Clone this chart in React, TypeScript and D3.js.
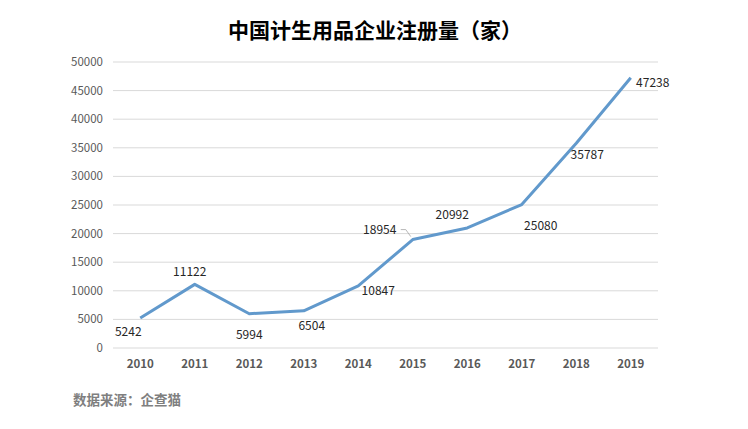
import { useEffect, useRef } from 'react'
import * as d3 from 'd3'

const years = ['2010', '2011', '2012', '2013', '2014', '2015', '2016', '2017', '2018', '2019']
const counts = [5242, 11122, 5994, 6504, 10847, 18954, 20992, 25080, 35787, 47238]
const yTicks = [0, 5000, 10000, 15000, 20000, 25000, 30000, 35000, 40000, 45000, 50000]

// label offsets from each point (layout only)
const labelOffset: [number, number][] = [
	[-12, 14], [-5, -13], [0, 21], [8, 15], [20, 5], [-33, -10], [-15, -13], [19, 21], [11, 12], [22, 5]
]

const W = 748
const H = 429
const font = '"Noto Sans CJK SC", "Noto Sans", sans-serif'

export default function App() {
	const ref = useRef<SVGSVGElement>(null)

	useEffect(() => {
		const svg = d3.select(ref.current)
		svg.selectAll('*').remove()

		const marginLeft = 113
		const marginRight = 90
		const top = 62
		const bottom = 348

		const x = d3.scaleBand().domain(years).range([marginLeft, W - marginRight])
		const y = d3.scaleLinear().domain([0, 50000]).range([bottom, top])
		const cx = (d: string) => (x(d) || 0) + x.bandwidth() / 2

		svg.append('text')
			.attr('x', W / 2 + 1)
			.attr('y', 38)
			.attr('text-anchor', 'middle')
			.attr('font-family', font)
			.attr('font-size', '21px')
			.attr('font-weight', 'bold')
			.attr('fill', '#000')
			.text('中国计生用品企业注册量（家）')

		// grid
		svg.append('g').selectAll('line').data(yTicks).join('line')
			.attr('x1', marginLeft)
			.attr('x2', W - marginRight)
			.attr('y1', d => y(d))
			.attr('y2', d => y(d))
			.attr('stroke', '#d9d9d9')
			.attr('stroke-width', 1)

		svg.append('g').selectAll('text').data(yTicks).join('text')
			.attr('x', 103)
			.attr('y', d => y(d))
			.attr('dy', '0.35em')
			.attr('text-anchor', 'end')
			.attr('font-family', font)
			.attr('font-size', '11.5px')
			.attr('fill', '#595959')
			.text(d => d)

		svg.append('g').selectAll('text').data(years).join('text')
			.attr('x', d => cx(d))
			.attr('y', 368)
			.attr('text-anchor', 'middle')
			.attr('font-family', font)
			.attr('font-size', '11.5px')
			.attr('font-weight', 'bold')
			.attr('fill', '#595959')
			.text(d => d)

		const line = d3.line<number>()
			.x((d, i) => cx(years[i]))
			.y(d => y(d))

		svg.append('path')
			.datum(counts)
			.attr('d', line)
			.attr('fill', 'none')
			.attr('stroke', '#6199cc')
			.attr('stroke-width', 3)
			.attr('stroke-linejoin', 'round')

		// leader line for 2015
		const i15 = years.indexOf('2015')
		const px = cx(years[i15])
		const py = y(counts[i15])
		svg.append('path')
			.attr('d', `M${px + labelOffset[i15][0] + 21},${py + labelOffset[i15][1]}h5L${px - 2},${py - 3}`)
			.attr('fill', 'none')
			.attr('stroke', '#a6a6a6')
			.attr('stroke-width', 0.8)

		svg.append('g').selectAll('text').data(counts).join('text')
			.attr('x', (d, i) => cx(years[i]) + labelOffset[i][0])
			.attr('y', (d, i) => y(d) + labelOffset[i][1])
			.attr('dy', '0.35em')
			.attr('text-anchor', 'middle')
			.attr('font-family', font)
			.attr('font-size', '12px')
			.attr('fill', '#262626')
			.text(d => d)

		svg.append('text')
			.attr('x', 73)
			.attr('y', 405)
			.attr('font-family', font)
			.attr('font-size', '13.5px')
			.attr('font-weight', 'bold')
			.attr('fill', '#7f7f7f')
			.text('数据来源：企查猫')
	}, [])

	return (
		<svg ref={ref} width={W} height={H} style={{ position: 'absolute', left: 0, top: 0, background: '#fff' }} />
	)
}
